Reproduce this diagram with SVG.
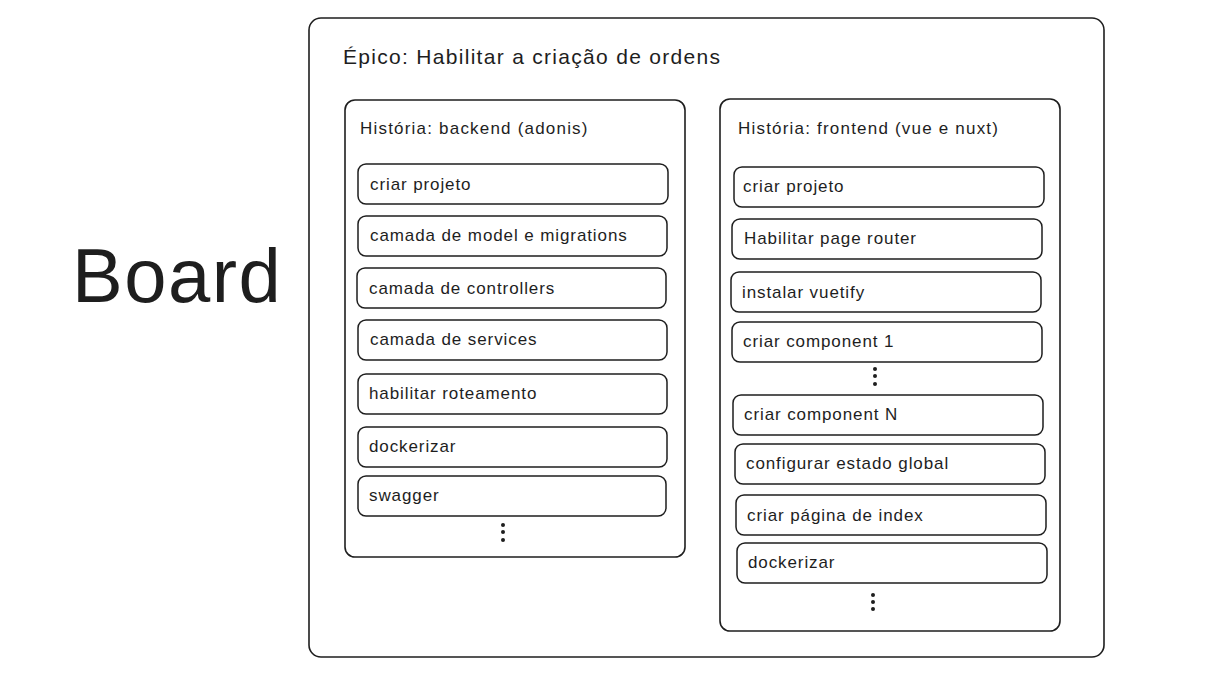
<svg xmlns="http://www.w3.org/2000/svg" width="1220" height="680" viewBox="0 0 1220 680">
<style>
.box{fill:none;stroke:#1e1e1e;stroke-width:1.6}
.item{fill:#ffffff;stroke:#1e1e1e;stroke-width:1.5}
text{font-family:"Liberation Sans",Arial,sans-serif;fill:#1e1e1e}
.t{font-size:17px;letter-spacing:0.9px}
.h{font-size:17px;letter-spacing:1.2px}
.dot{fill:#1e1e1e}
</style>
<rect width="1220" height="680" fill="#ffffff"/>
<text x="72" y="302" font-size="76" letter-spacing="1.5">Board</text>
<g id="epic">
<rect class="box" x="309" y="18" width="795" height="639" rx="12"/>
<text x="343" y="64" font-size="21" letter-spacing="1.3">Épico: Habilitar a criação de ordens</text>
</g>
<g id="story-backend">
<rect class="box" x="345" y="100" width="340" height="457" rx="10"/>
<text class="h" x="360" y="134">História: backend (adonis)</text>
</g>
<g id="story-frontend">
<rect class="box" x="720" y="99" width="340" height="532" rx="10"/>
<text class="h" x="738" y="134">História: frontend (vue e nuxt)</text>
</g>
<g id="b1"><rect class="item" x="358" y="164" width="310" height="40" rx="8"/><text class="t" x="370" y="190">criar projeto</text></g>
<g id="b2"><rect class="item" x="358" y="216" width="309" height="40" rx="8"/><text class="t" x="370" y="241">camada de model e migrations</text></g>
<g id="b3"><rect class="item" x="357" y="268" width="309" height="40" rx="8"/><text class="t" x="369" y="294">camada de controllers</text></g>
<g id="b4"><rect class="item" x="358" y="320" width="309" height="40" rx="8"/><text class="t" x="370" y="345">camada de services</text></g>
<g id="b5"><rect class="item" x="358" y="374" width="309" height="40" rx="8"/><text class="t" x="369" y="399">habilitar roteamento</text></g>
<g id="b6"><rect class="item" x="358" y="427" width="309" height="40" rx="8"/><text class="t" x="369" y="452">dockerizar</text></g>
<g id="b7"><rect class="item" x="358" y="476" width="308" height="40" rx="8"/><text class="t" x="369" y="501">swagger</text></g>
<g id="b-more"><circle class="dot" cx="503" cy="525" r="2"/><circle class="dot" cx="503" cy="532" r="2"/><circle class="dot" cx="503" cy="540" r="2"/></g>
<g id="f1"><rect class="item" x="734" y="167" width="310" height="40" rx="8"/><text class="t" x="743" y="192">criar projeto</text></g>
<g id="f2"><rect class="item" x="732" y="219" width="310" height="40" rx="8"/><text class="t" x="744" y="244">Habilitar page router</text></g>
<g id="f3"><rect class="item" x="731" y="272" width="310" height="40" rx="8"/><text class="t" x="742" y="298">instalar vuetify</text></g>
<g id="f4"><rect class="item" x="732" y="322" width="310" height="40" rx="8"/><text class="t" x="743" y="347">criar component 1</text></g>
<g id="f-more1"><circle class="dot" cx="875" cy="369" r="2"/><circle class="dot" cx="875" cy="376" r="2"/><circle class="dot" cx="875" cy="384" r="2"/></g>
<g id="f5"><rect class="item" x="733" y="395" width="310" height="40" rx="8"/><text class="t" x="744" y="420">criar component N</text></g>
<g id="f6"><rect class="item" x="735" y="444" width="310" height="40" rx="8"/><text class="t" x="746" y="469">configurar estado global</text></g>
<g id="f7"><rect class="item" x="736" y="495" width="310" height="40" rx="8"/><text class="t" x="747" y="521">criar página de index</text></g>
<g id="f8"><rect class="item" x="737" y="543" width="310" height="40" rx="8"/><text class="t" x="748" y="568">dockerizar</text></g>
<g id="f-more2"><circle class="dot" cx="873" cy="595" r="2"/><circle class="dot" cx="873" cy="602" r="2"/><circle class="dot" cx="873" cy="609" r="2"/></g>
<g id="connectors"></g>
</svg>
